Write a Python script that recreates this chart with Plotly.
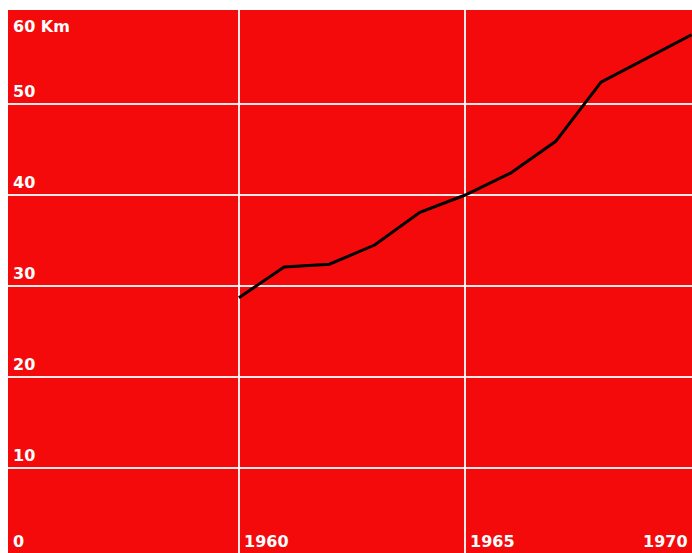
import plotly.graph_objects as go

years = [1960, 1961, 1962, 1963, 1964, 1965, 1966, 1967, 1968, 1970]
km = [28.7, 32.1, 32.4, 34.5, 38.1, 40.0, 42.4, 45.9, 52.4, 57.6]

y_ticks = [0, 10, 20, 30, 40, 50, 60]
y_labels = ["0", "10", "20", "30", "40", "50", "60 Km"]
x_ticks = [1960, 1965, 1970]
x_labels = ["1960", "1965", "1970"]

fig = go.Figure()
fig.add_trace(go.Scatter(x=years, y=km, mode="lines",
                         line=dict(color="black", width=3), hoverinfo="skip"))

font = dict(family="DejaVu Sans", size=16, color="white")
ann = []
for i, (v, t) in enumerate(zip(y_ticks, y_labels)):
    top = i == len(y_ticks) - 1
    first = i == 0
    ann.append(dict(x=0, xref="paper",
                    y=0 if first else v, yref="paper" if first else "y",
                    text="<b>%s</b>" % t,
                    showarrow=False, xanchor="left",
                    yanchor="top" if top else "bottom",
                    xshift=3, yshift=-2 if top else (0 if first else 1),
                    font=font))
for i, (v, t) in enumerate(zip(x_ticks, x_labels)):
    last = i == len(x_ticks) - 1
    ann.append(dict(x=v, xref="x", y=0, yref="paper", text="<b>%s</b>" % t,
                    showarrow=False, xanchor="right" if last else "left",
                    yanchor="bottom", xshift=-2 if last else 3, yshift=0,
                    font=font))

fig.update_layout(
    width=692, height=553,
    margin=dict(l=8, r=0, t=10, b=0, pad=0, autoexpand=False),
    paper_bgcolor="white", plot_bgcolor="#f40a0a",
    showlegend=False,
    annotations=ann,
    xaxis=dict(range=[1954.9, 1970.01], tickvals=x_ticks, showticklabels=False,
               showgrid=True, gridcolor="rgba(255,255,255,0.9)", gridwidth=1.5,
               zeroline=False, showline=False, fixedrange=True),
    # the top (60) grid line coincides with the chart's upper edge
    yaxis=dict(range=[0.66, 60.33], tickvals=y_ticks[:-1], showticklabels=False,
               showgrid=True, gridcolor="rgba(255,255,255,0.9)", gridwidth=1.5,
               zeroline=False, showline=False, fixedrange=True),
)
fig.write_html("out.html",
               config={"displayModeBar": False, "staticPlot": True},
               post_script="document.body.style.margin='0';"
                           "document.body.style.overflow='hidden';")
